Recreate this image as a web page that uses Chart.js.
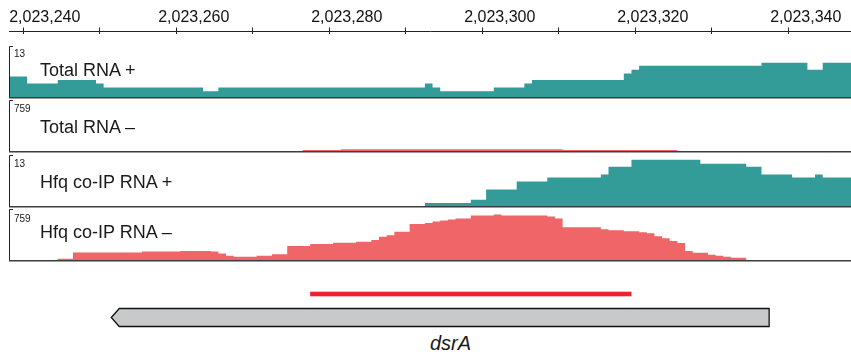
<!DOCTYPE html>
<html>
<head>
<meta charset="utf-8">
<script src="https://cdn.jsdelivr.net/npm/chart.js@4.4.1/dist/chart.umd.min.js"></script>
<style>
  body { margin: 0; background: #fff; width: 851px; height: 355px; position: relative; overflow: hidden;
         font-family: 'Liberation Sans', Arial, Helvetica, sans-serif; color: #1a1a1a; }
  canvas { position: absolute; left: 9px; }
  .lbl { position: absolute; white-space: nowrap; }
  .name { left: 40px; font-size: 18px; line-height: 20px; }
  .range { left: 14px; font-size: 10px; line-height: 12px; }
  #geneName { left: 430px; top: 332px; font-size: 20px; line-height: 22px; font-style: italic; }
</style>
</head>
<body>
<canvas id="axis" width="842" height="34" style="top:0"></canvas>
<canvas id="track0" width="842" height="54" style="top:45px"></canvas>
<canvas id="track1" width="842" height="54" style="top:99px"></canvas>
<canvas id="track2" width="842" height="54" style="top:154px"></canvas>
<canvas id="track3" width="842" height="54" style="top:208px"></canvas>
<canvas id="gene" width="842" height="50" style="top:280px"></canvas>

<div class="lbl range" style="top:48px">13</div>
<div class="lbl name" style="top:60px">Total RNA +</div>
<div class="lbl range" style="top:103px">759</div>
<div class="lbl name" style="top:117px">Total RNA –</div>
<div class="lbl range" style="top:158px">13</div>
<div class="lbl name" style="top:172px">Hfq co-IP RNA +</div>
<div class="lbl range" style="top:213px">759</div>
<div class="lbl name" style="top:222px">Hfq co-IP RNA –</div>
<div class="lbl" id="geneName">dsrA</div>

<script>
// visible genomic window and ruler
const VIEW_START = 2023238.13;
const VIEW_END = 2023348.2;
const rulerTicks = [2023240, 2023250, 2023260, 2023270, 2023280, 2023290, 2023300, 2023310, 2023320, 2023330, 2023340];
const rulerLabels = ['2,023,240', '', '2,023,260', '', '2,023,280', '', '2,023,300', '', '2,023,320', '', '2,023,340'];

const TEAL = '#339b98';
const SALMON = '#f06567';

// coverage, run-length encoded: first base of each run + value of the run
const totalPlusStart = [2023238, 2023241, 2023245, 2023250, 2023251, 2023264, 2023266, 2023293, 2023294, 2023295,
  2023302, 2023306, 2023307, 2023319, 2023320, 2023321, 2023337, 2023343, 2023345];
const totalPlusValue = [5.3, 3.5, 4.4, 3.5, 2.5, 1.5, 2.5, 3.5, 2.5, 1.5,
  2.5, 3.5, 4.4, 6.1, 7.1, 8.1, 8.9, 7.1, 8.9];

const totalMinusStart = [2023238, 2023277, 2023282, 2023311, 2023326];
const totalMinusValue = [0, 14, 28, 14, 0];

const hfqPlusStart = [2023238, 2023293, 2023299, 2023301, 2023305, 2023309, 2023316, 2023317, 2023320, 2023329,
  2023335, 2023337, 2023341, 2023344, 2023345];
const hfqPlusValue = [0, 0.8, 1.6, 4.3, 6.4, 7.4, 8.2, 10.2, 12.0, 11.0,
  10.2, 8.2, 7.4, 8.2, 7.4];

const hfqMinusStart = [2023238, 2023245, 2023247, 2023256, 2023261, 2023265, 2023266, 2023267, 2023268, 2023271,
  2023273, 2023275, 2023278, 2023281, 2023284, 2023286, 2023287, 2023288, 2023289, 2023291,
  2023293, 2023294, 2023295, 2023296, 2023297, 2023299, 2023302, 2023303, 2023309, 2023310,
  2023311, 2023316, 2023317, 2023319, 2023321, 2023322, 2023323, 2023324, 2023325, 2023326,
  2023327, 2023328, 2023330, 2023331, 2023332, 2023333, 2023335];
const hfqMinusValue = [0, 19, 115, 129, 138, 129, 100, 64, 49, 64,
  89, 213, 243, 263, 278, 302, 353, 376, 427, 546,
  561, 585, 600, 615, 629, 674, 689, 674, 659, 629,
  496, 466, 451, 436, 421, 406, 362, 332, 287, 257,
  138, 109, 79, 64, 49, 34, 0];

const trackMax = [13, 759, 13, 759];

// annotation: probe region and gene (minus strand)
const probeRegion = [2023278, 2023319];
const geneRegion = [2023252, 2023337];

const baseOptions = {
  responsive: false,
  animation: false,
  devicePixelRatio: 1,
  events: [],
  plugins: { legend: { display: false }, tooltip: { enabled: false } }
};

// ruler: labels above the line, tick marks crossing it
const RULER_FONT = 16, RULER_TICK = 4;
new Chart(document.getElementById('axis'), {
  type: 'line',
  data: { datasets: [] },
  options: {
    ...baseOptions,
    layout: { padding: { top: 8.3, left: 0, right: 0, bottom: 0 } },
    scales: {
      x: {
        type: 'linear', position: 'top', min: VIEW_START, max: VIEW_END,
        afterBuildTicks: (s) => { s.ticks = rulerTicks.map(v => ({ value: v })); },
        afterFit: (s) => {
          s.paddingLeft = 0; s.paddingRight = 0;
          s.height = RULER_TICK + RULER_FONT * 1.2;  // canvas is short, don't let layout squash it
        },
        ticks: {
          autoSkip: false, maxRotation: 0,
          padding: 0, labelOffset: 17.5, color: '#111',
          font: { family: "'Liberation Sans', Arial, sans-serif", size: RULER_FONT },
          // first label is kept inside the view, like the genome browser does
          callback: (v, i) => (i === 0 ? '\u2002' : '') + rulerLabels[i]
        },
        grid: { color: '#222', lineWidth: 1, tickLength: RULER_TICK, drawOnChartArea: true },
        border: { color: '#222', width: 1 }
      },
      y: { display: false }
    }
  }
});

const trackFrame = {
  id: 'trackFrame',
  afterDatasetsDraw(chart) {
    const { ctx, chartArea: a } = chart;
    ctx.save();
    ctx.strokeStyle = '#3d3d3d';
    ctx.lineWidth = 1.5;
    ctx.beginPath();
    ctx.moveTo(a.left, a.bottom + 0.75);
    ctx.lineTo(a.right, a.bottom + 0.75);
    ctx.stroke();
    ctx.strokeStyle = '#222';
    ctx.lineWidth = 1;
    ctx.beginPath();
    ctx.moveTo(a.left + 4, a.top - 0.5);
    ctx.lineTo(a.left + 0.5, a.top - 0.5);
    ctx.lineTo(a.left + 0.5, a.bottom);
    ctx.stroke();
    ctx.restore();
  }
};

function coverageChart(id, starts, values, maxValue, color) {
  const points = starts.map((s, i) => ({ x: s - 0.5, y: values[i] }));
  points.push({ x: VIEW_END + 1, y: values[values.length - 1] });
  return new Chart(document.getElementById(id), {
    type: 'line',
    data: {
      datasets: [{
        data: points, stepped: true, fill: 'origin',
        backgroundColor: color, borderColor: 'transparent', borderWidth: 0, pointRadius: 0
      }]
    },
    options: {
      ...baseOptions,
      layout: { padding: { top: 2, bottom: 2, left: 0, right: 0 } },
      scales: {
        x: { type: 'linear', min: VIEW_START, max: VIEW_END, display: false },
        y: { min: 0, max: maxValue, display: false }
      }
    },
    plugins: [trackFrame]
  });
}

coverageChart('track0', totalPlusStart, totalPlusValue, trackMax[0], TEAL);
coverageChart('track1', totalMinusStart, totalMinusValue, trackMax[1], SALMON);
coverageChart('track2', hfqPlusStart, hfqPlusValue, trackMax[2], TEAL);
coverageChart('track3', hfqMinusStart, hfqMinusValue, trackMax[3], SALMON);

// gene + probe annotation
const geneDraw = {
  id: 'geneDraw',
  afterDatasetsDraw(chart) {
    const { ctx } = chart;
    const x = chart.scales.x;
    const p0 = x.getPixelForValue(probeRegion[0] - 0.5);
    const p1 = x.getPixelForValue(probeRegion[1] + 0.5);
    const g0 = x.getPixelForValue(geneRegion[0] - 0.5);
    const g1 = x.getPixelForValue(geneRegion[1] + 0.5);
    ctx.save();
    ctx.fillStyle = '#ee2228';
    ctx.fillRect(p0, 11.7, p1 - p0, 4.6);
    const top = 28.5, bottom = 46.5, mid = (top + bottom) / 2;
    ctx.beginPath();
    ctx.moveTo(g0, mid);
    ctx.lineTo(g0 + 8, top);
    ctx.lineTo(g1, top);
    ctx.lineTo(g1, bottom);
    ctx.lineTo(g0 + 8, bottom);
    ctx.closePath();
    ctx.fillStyle = '#c8c9cb';
    ctx.fill();
    ctx.strokeStyle = '#111';
    ctx.lineWidth = 1.3;
    ctx.stroke();
    ctx.restore();
  }
};

new Chart(document.getElementById('gene'), {
  type: 'line',
  data: { datasets: [] },
  options: {
    ...baseOptions,
    layout: { padding: 0 },
    scales: {
      x: { type: 'linear', min: VIEW_START, max: VIEW_END, display: false },
      y: { min: 0, max: 1, display: false }
    }
  },
  plugins: [geneDraw]
});
</script>
</body>
</html>
